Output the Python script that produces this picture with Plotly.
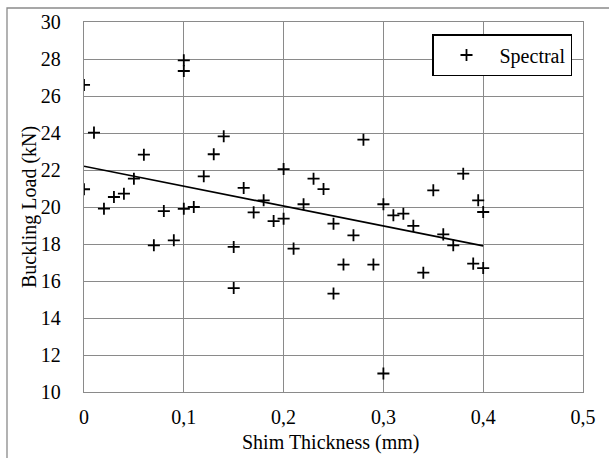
import plotly.graph_objects as go

shim_thickness = [0.0, 0.0, 0.01, 0.02, 0.03, 0.04, 0.05, 0.06, 0.07, 0.08, 0.09,
                  0.10, 0.10, 0.10, 0.11, 0.12, 0.13, 0.14, 0.15, 0.15, 0.16, 0.17,
                  0.18, 0.19, 0.20, 0.20, 0.21, 0.22, 0.23, 0.24, 0.25, 0.25, 0.26,
                  0.27, 0.28, 0.29, 0.30, 0.30, 0.31, 0.32, 0.33, 0.34, 0.35, 0.36,
                  0.37, 0.38, 0.39, 0.395, 0.40, 0.40]
buckling_load = [26.6, 20.96, 24.02, 19.91, 20.54, 20.72, 21.53, 22.83, 17.93, 19.78, 18.2,
                 27.93, 27.35, 19.9, 20.0, 21.66, 22.85, 23.82, 17.84, 15.62, 21.03, 19.71,
                 20.36, 19.24, 22.05, 19.37, 17.75, 20.15, 21.53, 20.97, 19.1, 15.32, 16.89,
                 18.47, 23.64, 16.89, 20.15, 11.0, 19.55, 19.64, 18.98, 16.45, 20.9, 18.52,
                 17.93, 21.8, 16.94, 20.36, 19.73, 16.7]

trend_x = [0.0, 0.4]
trend_y = [22.2, 17.9]

x_tick_vals = [0, 0.1, 0.2, 0.3, 0.4, 0.5]
x_tick_text = ["0", "0,1", "0,2", "0,3", "0,4", "0,5"]
y_tick_vals = [10, 12, 14, 16, 18, 20, 22, 24, 26, 28, 30]

FONT = "Liberation Serif, Times New Roman, serif"
GRID = "#8a8a8a"
FS = 20

fig = go.Figure()
fig.add_trace(go.Scatter(
    x=shim_thickness, y=buckling_load, mode="markers", name="Spectral",
    marker=dict(symbol="cross-thin", size=8.6, color="black",
                line=dict(color="black", width=1.8)),
))
fig.add_trace(go.Scatter(
    x=trend_x, y=trend_y, mode="lines", showlegend=False,
    line=dict(color="black", width=1.6),
))

L, R, T, B = 84, 26, 22, 66
W, H = 609, 458
pw = W - L - R
ph = H - T - B

fig.update_layout(
    width=W, height=H,
    margin=dict(l=L, r=R, t=T, b=B),
    paper_bgcolor="white", plot_bgcolor="white",
    font=dict(family=FONT, size=FS, color="black"),
    showlegend=True,
    legend=dict(
        x=(572 - L) / pw, xanchor="right",
        y=1 - (34 - T) / ph, yanchor="top",
        bordercolor="black", borderwidth=1.5, bgcolor="white",
        font=dict(family=FONT, size=FS), itemwidth=56,
    ),
    xaxis=dict(
        range=[0, 0.5], tickvals=x_tick_vals, ticktext=x_tick_text,
        showgrid=True, gridcolor=GRID, gridwidth=1.3,
        showline=True, linecolor=GRID, linewidth=1.3, mirror=True,
        zeroline=False, ticks="", ticklabelstandoff=7,
        tickfont=dict(family=FONT, size=FS),
    ),
    yaxis=dict(
        range=[10, 30], tickvals=y_tick_vals,
        showgrid=True, gridcolor=GRID, gridwidth=1.3,
        showline=True, linecolor=GRID, linewidth=1.3, mirror=True,
        zeroline=False, ticks="", ticklabelstandoff=18,
        tickfont=dict(family=FONT, size=FS),
    ),
    annotations=[
        dict(text="Shim Thickness (mm)", xref="paper", yref="paper",
             x=(330 - L) / pw, y=-(442 - (T + ph)) / ph, xanchor="center", yanchor="middle",
             showarrow=False, font=dict(family=FONT, size=FS)),
        dict(text="Buckling Load (kN)", xref="paper", yref="paper",
             x=-(L - 29) / pw, y=0.5, xanchor="center", yanchor="middle",
             textangle=-90, showarrow=False, font=dict(family=FONT, size=FS)),
    ],
    shapes=[
        dict(type="rect", xref="paper", yref="paper",
             x0=-(L - 7) / pw, x1=(W - L + 5) / pw,
             y0=-(B + 5) / ph, y1=1 + (T - 8) / ph,
             line=dict(color=GRID, width=1.3), layer="below"),
    ],
)

fig.write_html("out.html", config={"displayModeBar": False},
               post_script="document.body.style.margin='0';document.body.style.overflow='hidden';")
